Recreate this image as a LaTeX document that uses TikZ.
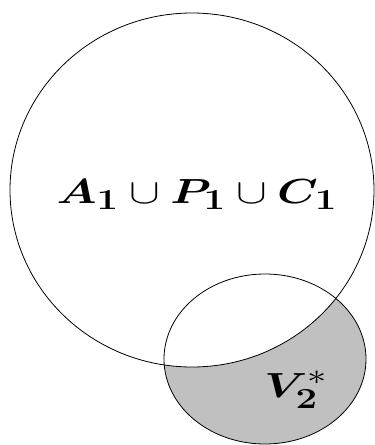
\documentclass[tikz,border=0pt]{standalone}
\usepackage{amsmath,bm}
\definecolor{vennShade}{HTML}{C0C0C0}
\begin{document}
\begin{tikzpicture}[x=1pt,y=-1pt,line cap=round,line join=round]
\useasboundingbox (0,0) rectangle (375,445);
\tikzset{rim/.style={draw=black,line width=0.8pt},setlabel/.style={font=\fontsize{24.88}{30}\selectfont,inner sep=0pt,anchor=base}}
% shaded part of V2* lying outside the big set
\path[fill=vennShade] (265,359) ellipse [x radius=101,y radius=85];
\path[fill=white] (192,190) ellipse [x radius=182,y radius=177];
\path[rim] (192,190) ellipse [x radius=182,y radius=177];
\path[rim] (265,359) ellipse [x radius=101,y radius=85];
\node[setlabel] (union) at (197,203) {\scalebox{1.85}[1.4]{$\bm{A}_{\mathbf{1}}\cup\bm{P}_{\mathbf{1}}\cup\bm{C}_{\mathbf{1}}$}};
\node[setlabel] (vstar) at (296,397) {\scalebox{1.85}[1.4]{$\bm{V}^{*}_{\mathbf{2}}$}};
\end{tikzpicture}
\end{document}
